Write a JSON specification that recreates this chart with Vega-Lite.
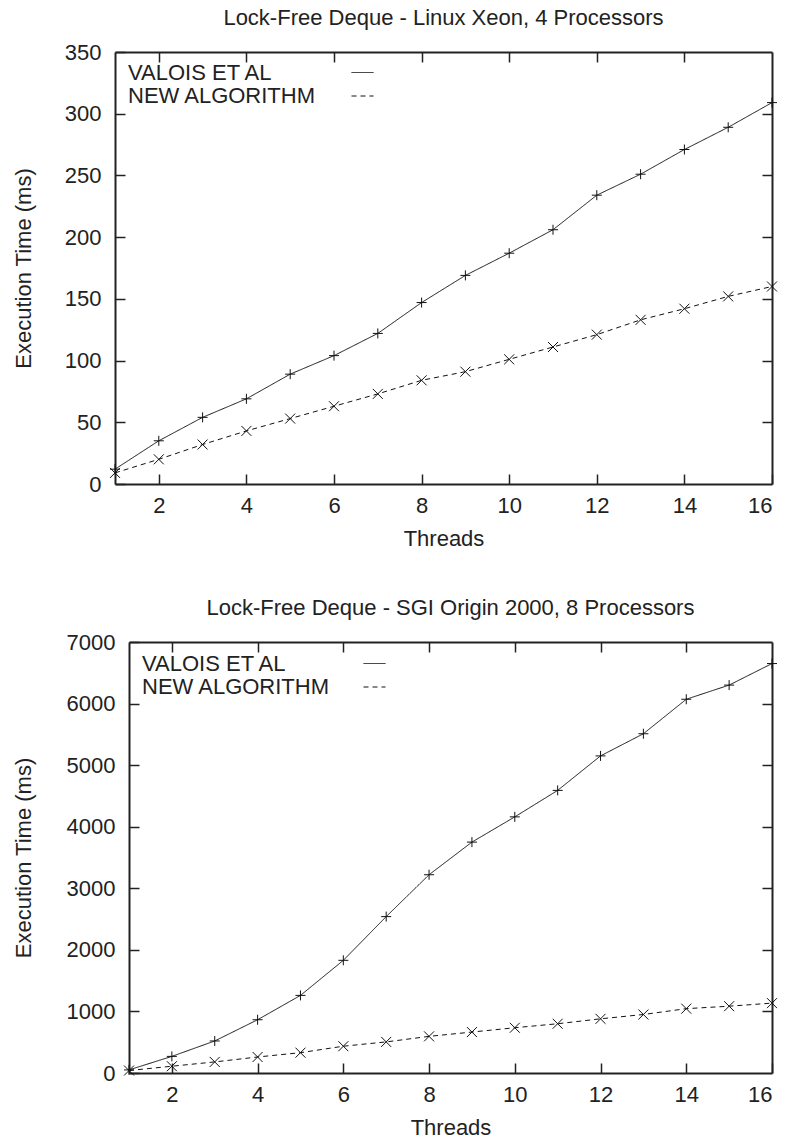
{
  "$schema": "https://vega.github.io/schema/vega-lite/v6.json",
  "padding": {"left": 12, "top": 7, "right": 5, "bottom": 5},
  "spacing": 48,
  "datasets": {
    "xeon": [
      {"threads": 1, "series": "VALOIS ET AL", "ms": 12},
      {"threads": 2, "series": "VALOIS ET AL", "ms": 35},
      {"threads": 3, "series": "VALOIS ET AL", "ms": 54},
      {"threads": 4, "series": "VALOIS ET AL", "ms": 69},
      {"threads": 5, "series": "VALOIS ET AL", "ms": 89},
      {"threads": 6, "series": "VALOIS ET AL", "ms": 104},
      {"threads": 7, "series": "VALOIS ET AL", "ms": 122},
      {"threads": 8, "series": "VALOIS ET AL", "ms": 147},
      {"threads": 9, "series": "VALOIS ET AL", "ms": 169},
      {"threads": 10, "series": "VALOIS ET AL", "ms": 187},
      {"threads": 11, "series": "VALOIS ET AL", "ms": 206},
      {"threads": 12, "series": "VALOIS ET AL", "ms": 234},
      {"threads": 13, "series": "VALOIS ET AL", "ms": 251},
      {"threads": 14, "series": "VALOIS ET AL", "ms": 271},
      {"threads": 15, "series": "VALOIS ET AL", "ms": 289},
      {"threads": 16, "series": "VALOIS ET AL", "ms": 309},
      {"threads": 1, "series": "NEW ALGORITHM", "ms": 9},
      {"threads": 2, "series": "NEW ALGORITHM", "ms": 20},
      {"threads": 3, "series": "NEW ALGORITHM", "ms": 32},
      {"threads": 4, "series": "NEW ALGORITHM", "ms": 43},
      {"threads": 5, "series": "NEW ALGORITHM", "ms": 53},
      {"threads": 6, "series": "NEW ALGORITHM", "ms": 63},
      {"threads": 7, "series": "NEW ALGORITHM", "ms": 73},
      {"threads": 8, "series": "NEW ALGORITHM", "ms": 84},
      {"threads": 9, "series": "NEW ALGORITHM", "ms": 91},
      {"threads": 10, "series": "NEW ALGORITHM", "ms": 101},
      {"threads": 11, "series": "NEW ALGORITHM", "ms": 111},
      {"threads": 12, "series": "NEW ALGORITHM", "ms": 121},
      {"threads": 13, "series": "NEW ALGORITHM", "ms": 133},
      {"threads": 14, "series": "NEW ALGORITHM", "ms": 142},
      {"threads": 15, "series": "NEW ALGORITHM", "ms": 152},
      {"threads": 16, "series": "NEW ALGORITHM", "ms": 160}
    ],
    "sgi": [
      {"threads": 1, "series": "VALOIS ET AL", "ms": 50},
      {"threads": 2, "series": "VALOIS ET AL", "ms": 270},
      {"threads": 3, "series": "VALOIS ET AL", "ms": 520},
      {"threads": 4, "series": "VALOIS ET AL", "ms": 865},
      {"threads": 5, "series": "VALOIS ET AL", "ms": 1260},
      {"threads": 6, "series": "VALOIS ET AL", "ms": 1830},
      {"threads": 7, "series": "VALOIS ET AL", "ms": 2540},
      {"threads": 8, "series": "VALOIS ET AL", "ms": 3220},
      {"threads": 9, "series": "VALOIS ET AL", "ms": 3750},
      {"threads": 10, "series": "VALOIS ET AL", "ms": 4160},
      {"threads": 11, "series": "VALOIS ET AL", "ms": 4590},
      {"threads": 12, "series": "VALOIS ET AL", "ms": 5150},
      {"threads": 13, "series": "VALOIS ET AL", "ms": 5510},
      {"threads": 14, "series": "VALOIS ET AL", "ms": 6070},
      {"threads": 15, "series": "VALOIS ET AL", "ms": 6300},
      {"threads": 16, "series": "VALOIS ET AL", "ms": 6650},
      {"threads": 1, "series": "NEW ALGORITHM", "ms": 40},
      {"threads": 2, "series": "NEW ALGORITHM", "ms": 110},
      {"threads": 3, "series": "NEW ALGORITHM", "ms": 180},
      {"threads": 4, "series": "NEW ALGORITHM", "ms": 260},
      {"threads": 5, "series": "NEW ALGORITHM", "ms": 330},
      {"threads": 6, "series": "NEW ALGORITHM", "ms": 435},
      {"threads": 7, "series": "NEW ALGORITHM", "ms": 505},
      {"threads": 8, "series": "NEW ALGORITHM", "ms": 595},
      {"threads": 9, "series": "NEW ALGORITHM", "ms": 665},
      {"threads": 10, "series": "NEW ALGORITHM", "ms": 735},
      {"threads": 11, "series": "NEW ALGORITHM", "ms": 800},
      {"threads": 12, "series": "NEW ALGORITHM", "ms": 880},
      {"threads": 13, "series": "NEW ALGORITHM", "ms": 950},
      {"threads": 14, "series": "NEW ALGORITHM", "ms": 1045},
      {"threads": 15, "series": "NEW ALGORITHM", "ms": 1085},
      {"threads": 16, "series": "NEW ALGORITHM", "ms": 1135}
    ]
  },
  "vconcat": [
    {
      "title": {"text": "Lock-Free Deque - Linux Xeon, 4 Processors", "frame": "group", "anchor": "middle", "offset": 11},
      "width": 657,
      "height": 432,
      "data": {"name": "xeon"},
      "layer": [
        {
          "mark": {"type": "line", "color": "#111", "strokeWidth": 1},
          "encoding": {
            "x": {"field": "threads", "type": "quantitative", "scale": {"domain": [1, 16], "nice": false, "zero": false},
              "axis": {"orient": "bottom", "values": [2, 4, 6, 8, 10, 12, 14, 16], "tickSize": -10, "labelPadding": 21, "title": "Threads", "titlePadding": 12}},
            "y": {"field": "ms", "type": "quantitative", "scale": {"domain": [0, 350], "nice": false},
              "axis": {"orient": "left", "values": [0, 50, 100, 150, 200, 250, 300, 350], "format": "d", "tickSize": -10, "labelPadding": 24, "title": "Execution Time (ms)", "titlePadding": 29}},
            "strokeDash": {"field": "series", "type": "nominal",
              "scale": {"domain": ["VALOIS ET AL", "NEW ALGORITHM"], "range": [[1, 0], [5, 4]]},
              "legend": {
                "title": null, "orient": "none", "legendX": 12, "legendY": 9,
                "symbolSize": 484, "rowPadding": 0.5, "labelLimit": 400,
                "symbolOffset": 224, "labelOffset": -246
              }}
          }
        },
        {
          "mark": {"type": "point", "filled": false, "stroke": "#111", "strokeWidth": 1, "size": 100, "opacity": 1},
          "encoding": {
            "x": {"field": "threads", "type": "quantitative", "scale": {"domain": [1, 16], "nice": false, "zero": false},
              "axis": {"orient": "top", "values": [2, 4, 6, 8, 10, 12, 14], "tickSize": -10, "labels": false, "title": null}},
            "y": {"field": "ms", "type": "quantitative", "scale": {"domain": [0, 350], "nice": false},
              "axis": {"orient": "right", "values": [50, 100, 150, 200, 250, 300], "tickSize": -10, "labels": false, "title": null}},
            "shape": {"condition": {"test": "datum.series === 'VALOIS ET AL'", "value": "M-1,0L1,0M0,-1L0,1"}, "value": "M-1,-1L1,1M-1,1L1,-1"}
          }
        }
      ],
      "resolve": {"scale": {"x": "independent", "y": "independent"}, "axis": {"x": "independent", "y": "independent"}}
    },
    {
      "title": {"text": "Lock-Free Deque - SGI Origin 2000, 8 Processors", "frame": "group", "anchor": "middle", "offset": 11, "dx": 7},
      "width": 657,
      "height": 431,
      "data": {"name": "sgi"},
      "layer": [
        {
          "mark": {"type": "line", "color": "#111", "strokeWidth": 1},
          "encoding": {
            "x": {"field": "threads", "type": "quantitative", "scale": {"domain": [1, 16], "nice": false, "zero": false, "range": [14, 657]},
              "axis": {"orient": "bottom", "values": [2, 4, 6, 8, 10, 12, 14, 16], "tickSize": -10, "labelPadding": 21, "title": "Threads", "titlePadding": 12, "titleX": 335.5}},
            "y": {"field": "ms", "type": "quantitative", "scale": {"domain": [0, 7000], "nice": false},
              "axis": {"orient": "left", "offset": -14, "values": [0, 1000, 2000, 3000, 4000, 5000, 6000, 7000], "format": "d", "tickSize": -10, "labelPadding": 24, "title": "Execution Time (ms)", "titlePadding": 31}},
            "strokeDash": {"field": "series", "type": "nominal",
              "scale": {"domain": ["VALOIS ET AL", "NEW ALGORITHM"], "range": [[1, 0], [5, 4]]},
              "legend": {
                "title": null, "orient": "none", "legendX": 26, "legendY": 10,
                "symbolSize": 484, "rowPadding": 0.5, "labelLimit": 400,
                "symbolOffset": 222, "labelOffset": -244
              }}
          }
        },
        {
          "mark": {"type": "point", "filled": false, "stroke": "#111", "strokeWidth": 1, "size": 100, "opacity": 1},
          "encoding": {
            "x": {"field": "threads", "type": "quantitative", "scale": {"domain": [1, 16], "nice": false, "zero": false, "range": [14, 657]},
              "axis": {"orient": "top", "values": [2, 4, 6, 8, 10, 12, 14], "tickSize": -10, "labels": false, "title": null}},
            "y": {"field": "ms", "type": "quantitative", "scale": {"domain": [0, 7000], "nice": false},
              "axis": {"orient": "right", "values": [1000, 2000, 3000, 4000, 5000, 6000], "tickSize": -10, "labels": false, "title": null}},
            "shape": {"condition": {"test": "datum.series === 'VALOIS ET AL'", "value": "M-1,0L1,0M0,-1L0,1"}, "value": "M-1,-1L1,1M-1,1L1,-1"}
          }
        }
      ],
      "resolve": {"scale": {"x": "independent", "y": "independent"}, "axis": {"x": "independent", "y": "independent"}}
    }
  ],
  "resolve": {"scale": {"strokeDash": "independent"}, "legend": {"strokeDash": "independent"}},
  "config": {
    "font": "Liberation Sans",
    "view": {"stroke": null},
    "title": {"font": "Liberation Sans", "fontSize": 22, "fontWeight": "normal", "color": "#222"},
    "axis": {
      "labelFont": "Liberation Sans", "labelFontSize": 22, "labelColor": "#222",
      "titleFont": "Liberation Sans", "titleFontSize": 22, "titleFontWeight": "normal", "titleColor": "#222",
      "domainColor": "#222", "domainWidth": 2, "tickColor": "#222", "tickWidth": 1.5, "grid": false
    },
    "legend": {"labelFont": "Liberation Sans", "labelFontSize": 22, "labelColor": "#222", "symbolStrokeColor": "#111", "symbolStrokeWidth": 1}
  }
}
